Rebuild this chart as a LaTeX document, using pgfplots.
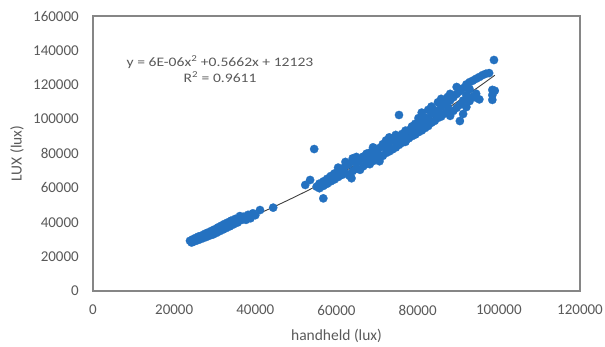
\documentclass[border=0pt]{standalone}
\usepackage{fontspec}
\setmainfont{Carlito}
\usepackage{pgfplots}
\usepackage{pgfplotstable}
\pgfplotsset{compat=1.18}
\definecolor{ptblue}{RGB}{36,113,192}
\definecolor{txtgray}{RGB}{89,89,89}
\definecolor{boxgray}{RGB}{134,134,134}

\pgfplotstableread{
x y
23900 29200
24300 28200
24600 30100
25000 28900
25300 30900
25700 29500
26000 31700
26400 30100
26800 32300
27200 30800
27600 33300
28000 31500
28400 34100
28800 32300
29200 35000
29600 32900
30000 35900
30400 33800
30800 37000
31200 34800
31600 38000
32000 35700
32400 39000
32800 36600
33200 39900
33700 37600
34100 41000
34600 38700
35100 42000
35600 39800
36200 43600
36600 41300
37100 43200
37700 41400
38200 44300
38800 42300
39400 45200
40000 44100
41150 47100
44400 48500
52300 61700
53500 64600
54500 82600
56750 53900
55100 60700
55800 59800
55800 62500
56800 61200
56800 63800
57700 62400
57700 65300
58600 63800
58600 66900
59500 64900
59500 68400
60400 66300
60400 69700
60400 71800
61300 67500
61300 71000
62200 68600
62200 72800
62200 75100
63100 67200
63100 73900
63700 65600
64000 69800
64000 75600
64000 77200
64900 71200
64900 74400
64900 78000
65800 70500
65800 76500
66600 72600
66600 78200
67400 74000
67400 79900
67400 76800
68200 73800
68200 80500
69000 75600
69000 79200
69000 83600
69800 76800
69800 81700
70600 75500
70600 83200
70600 79000
71400 78600
71400 85400
72200 80300
72200 83800
72200 87600
73000 81200
73000 86100
73000 89400
73800 82400
73800 88200
74600 83500
74600 86900
74600 90800
75400 102400
75400 85000
75400 89600
76200 86300
76200 91400
76200 88200
77000 86800
77000 89600
77000 93300
77800 88800
77800 93500
78600 90100
78600 95800
78600 92500
79400 91000
79400 97300
80200 92400
80200 95600
80200 100600
81000 93400
81000 98200
81000 103800
81800 94800
81800 101000
82600 96000
82600 99400
82600 105400
83400 97900
83400 103000
83400 107300
84200 99000
84200 105200
85000 100700
85000 103900
85000 109800
85800 101500
85800 107100
85800 111800
86600 103200
86600 109400
87400 104200
87400 107200
87400 112900
88000 101900
88000 110800
88000 114700
88800 104800
88800 112700
89600 106600
89600 114600
89600 118700
90400 98900
90400 108300
90400 116200
91200 103000
91200 110800
91200 118000
92000 107000
92000 114000
92000 120200
92800 110500
92800 117400
92800 121500
93600 113000
93600 122400
94400 112500
94400 114800
94400 123500
95200 111500
95200 124500
96000 125600
96800 126400
97600 126800
98400 111200
98400 114000
98400 117000
99000 116500
98800 134400
}\ptdata

\begin{document}
\begin{tikzpicture}
\useasboundingbox (-93pt,-55pt) rectangle (512pt,291pt);
\begin{axis}[
  scale only axis, width=487pt, height=275pt,
  xmin=0, xmax=120000, ymin=0, ymax=160000,
  xtick={0,20000,40000,60000,80000,100000,120000},
  xticklabels={0,20000,40000,60000,80000,100000,120000},
  ytick={0,20000,40000,60000,80000,100000,120000,140000,160000},
  yticklabels={0,20000,40000,60000,80000,100000,120000,140000,160000},
  scaled ticks=false,
  major tick length=0pt,
  axis line style={boxgray, line width=1.3pt},
  tick label style={font=\fontsize{15}{15}\selectfont, text=txtgray, inner sep=0pt},
  xticklabel style={anchor=north, yshift=-14pt},
  yticklabel style={anchor=east, xshift=-14pt},
  xlabel={handheld (lux)}, ylabel={LUX (lux)},
  every axis x label/.style={at={(axis description cs:0.5,0)}, anchor=center, yshift=-45pt, font=\fontsize{15.5}{16}\selectfont, text=txtgray},
  every axis y label/.style={at={(axis description cs:0,0.5)}, rotate=90, anchor=center, yshift=76pt, font=\fontsize{15.5}{16}\selectfont, text=txtgray},
  clip=false,
]
\addplot[only marks, mark=*, mark size=4.2pt, mark options={fill=ptblue, draw=ptblue, line width=0.2pt}] table[x=x, y=y] {\ptdata};
\addplot[black!75, line width=0.9pt, smooth] coordinates {
(24000,29082) (30000,34374) (35000,39106) (40000,44131) (45000,49448)
(50000,55058) (55000,60960) (60000,67155) (65000,73642) (70000,80422)
(75000,87494) (80000,94859) (85000,102516) (90000,110466) (95000,118708)
(99000,125513)};
\node[font=\fontsize{13}{16}\selectfont, text=txtgray, align=center, xscale=1.2, transform shape]
  at (axis cs:31300,129200) {y = 6E-06x\textsuperscript{2} +0.5662x + 12123\\R\textsuperscript{2} = 0.9611};
\end{axis}
\end{tikzpicture}
\end{document}
